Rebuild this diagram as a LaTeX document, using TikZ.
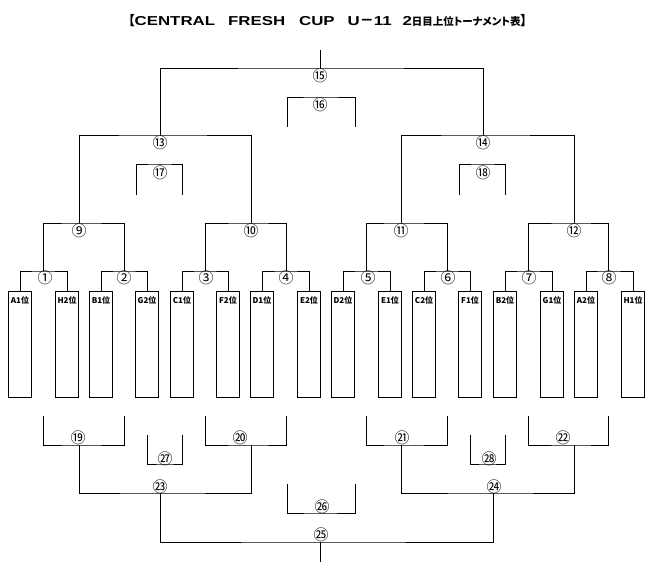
\documentclass[tikz,border=0pt]{standalone}
\usepackage{fontspec}
\setmainfont{Noto Sans CJK JP}
\newfontfamily\tlat{Liberation Sans}
\newfontfamily\cjkt{Noto Sans CJK JP}[RawFeature=+palt]
\newcommand{\stw}[1]{\scalebox{1.3}[1]{\tlat\bfseries #1}}
\newcommand{\cjw}[1]{{\cjkt\bfseries\fontsize{10.5}{12}\selectfont #1}}
\tikzset{
  ln/.style={line width=1bp, black},
  team/.style={draw, line width=1bp, rectangle, minimum width=23bp, minimum height=106bp, inner sep=0pt},
  tlabel/.style={anchor=north, inner sep=0pt, yshift=-6bp, font=\fontsize{8}{9}\selectfont\bfseries},
  num/.style={inner sep=0pt, font=\fontsize{15}{16}\selectfont},
  ttl/.style={inner sep=0pt, anchor=west, font=\fontsize{13}{14}\selectfont\bfseries}
}
\begin{document}
\begin{tikzpicture}[x=1bp,y=-1bp]
\useasboundingbox (0,0) rectangle (655,574);
\node[ttl] (title) at (128,21) {{\cjkt\fontsize{13}{14}\selectfont 【}\stw{CENTRAL}\hspace{13bp}\stw{FRESH}\hspace{14bp}\stw{CUP}\hspace{13bp}\stw{U}{\fontsize{14}{14}\selectfont －}\stw{11}\hspace{11bp}\stw{2}\cjw{日目上位トーナメント表}{\cjkt\fontsize{13}{14}\selectfont 】}};
% teams
\foreach \n/\x/\t in {1/20/A1位,2/67/H2位,3/101/B1位,4/147/G2位,5/182/C1位,6/228/F2位,7/262/D1位,8/309/E2位,9/343/D2位,10/390/E1位,11/424/C2位,12/470/F1位,13/505/B2位,14/552/G1位,15/586/A2位,16/633/H1位}{
  \node[team] (t\n) at (\x,344) {};
  \node[tlabel] (l\n) at (t\n.north) {\t};
}
% match points
\coordinate (m1) at (43,271); \coordinate (m2) at (124,271);
\coordinate (m3) at (205,271); \coordinate (m4) at (286,271);
\coordinate (m5) at (366,271); \coordinate (m6) at (447,271);
\coordinate (m7) at (528,271); \coordinate (m8) at (608,271);
\coordinate (m9) at (79,223); \coordinate (m10) at (251,223);
\coordinate (m11) at (401,223); \coordinate (m12) at (574,223);
\coordinate (m13) at (160,136); \coordinate (m14) at (483,136);
\coordinate (m15) at (320,69); \coordinate (top) at (320,50);
\draw[ln] (t1.north) |- (m1) -| (t2.north);
\draw[ln] (t3.north) |- (m2) -| (t4.north);
\draw[ln] (t5.north) |- (m3) -| (t6.north);
\draw[ln] (t7.north) |- (m4) -| (t8.north);
\draw[ln] (t9.north) |- (m5) -| (t10.north);
\draw[ln] (t11.north) |- (m6) -| (t12.north);
\draw[ln] (t13.north) |- (m7) -| (t14.north);
\draw[ln] (t15.north) |- (m8) -| (t16.north);
\draw[ln] (m1) |- (m9) -| (m2);
\draw[ln] (m3) |- (m10) -| (m4);
\draw[ln] (m5) |- (m11) -| (m6);
\draw[ln] (m7) |- (m12) -| (m8);
\draw[ln] (m9) |- (m13) -| (m10);
\draw[ln] (m11) |- (m14) -| (m12);
\draw[ln] (m13) |- (m15) -| (m14);
\draw[ln] (m15) -- (top);
% side brackets top
\coordinate (a16l) at (287,127); \coordinate (m16) at (320,98); \coordinate (a16r) at (355,127);
\coordinate (a17l) at (136,195); \coordinate (m17) at (160,165); \coordinate (a17r) at (182,195);
\coordinate (a18l) at (459,195); \coordinate (m18) at (483,165); \coordinate (a18r) at (505,195);
\draw[ln] (a16l) |- (m16) -| (a16r);
\draw[ln] (a17l) |- (m17) -| (a17r);
\draw[ln] (a18l) |- (m18) -| (a18r);
% bottom brackets
\coordinate (p19l) at (43,416); \coordinate (m19) at (79,445); \coordinate (p19r) at (124,416);
\coordinate (p20l) at (205,416); \coordinate (m20) at (251,445); \coordinate (p20r) at (286,416);
\coordinate (p21l) at (366,416); \coordinate (m21) at (401,445); \coordinate (p21r) at (447,416);
\coordinate (p22l) at (528,416); \coordinate (m22) at (574,445); \coordinate (p22r) at (608,416);
\coordinate (p27l) at (147,435); \coordinate (m27) at (165,464); \coordinate (p27r) at (182,435);
\coordinate (p28l) at (470,435); \coordinate (m28) at (487,464); \coordinate (p28r) at (505,435);
\coordinate (p26l) at (287,484); \coordinate (m26) at (320,513); \coordinate (p26r) at (355,484);
\coordinate (m23) at (160,493); \coordinate (m24) at (493,493);
\coordinate (m25) at (320,542); \coordinate (bot) at (320,562);
\draw[ln] (p19l) |- (m19) -| (p19r);
\draw[ln] (p20l) |- (m20) -| (p20r);
\draw[ln] (p21l) |- (m21) -| (p21r);
\draw[ln] (p22l) |- (m22) -| (p22r);
\draw[ln] (p27l) |- (m27) -| (p27r);
\draw[ln] (p28l) |- (m28) -| (p28r);
\draw[ln] (p26l) |- (m26) -| (p26r);
\draw[ln] (m19) |- (m23) -| (m20);
\draw[ln] (m21) |- (m24) -| (m22);
\draw[ln] (m23) |- (m25) -| (m24);
\draw[ln] (m25) -- (bot);
% numbers
\foreach \n/\x/\y/\s in {1/45/278/①,2/124/278/②,3/206/278/③,4/286/278/④,5/368/278/⑤,6/448/278/⑥,7/529/278/⑦,8/609/278/⑧,9/79/231/⑨,10/251/231/⑩,11/401/231/⑪,12/574/231/⑫,13/160/143/⑬,14/483/143/⑭,15/320/76/⑮,16/320/105/⑯,17/160/173/⑰,18/483/173/⑱,19/78/438/⑲,20/240/438/⑳,21/402/438/㉑,22/563/438/㉒,23/160/487/㉓,24/494/487/㉔,25/321/535/㉕,26/322/507/㉖,27/165/459/㉗,28/489/459/㉘}{
  \node[num] (c\n) at (\x,\y) {\s};
}
\end{tikzpicture}
\end{document}
